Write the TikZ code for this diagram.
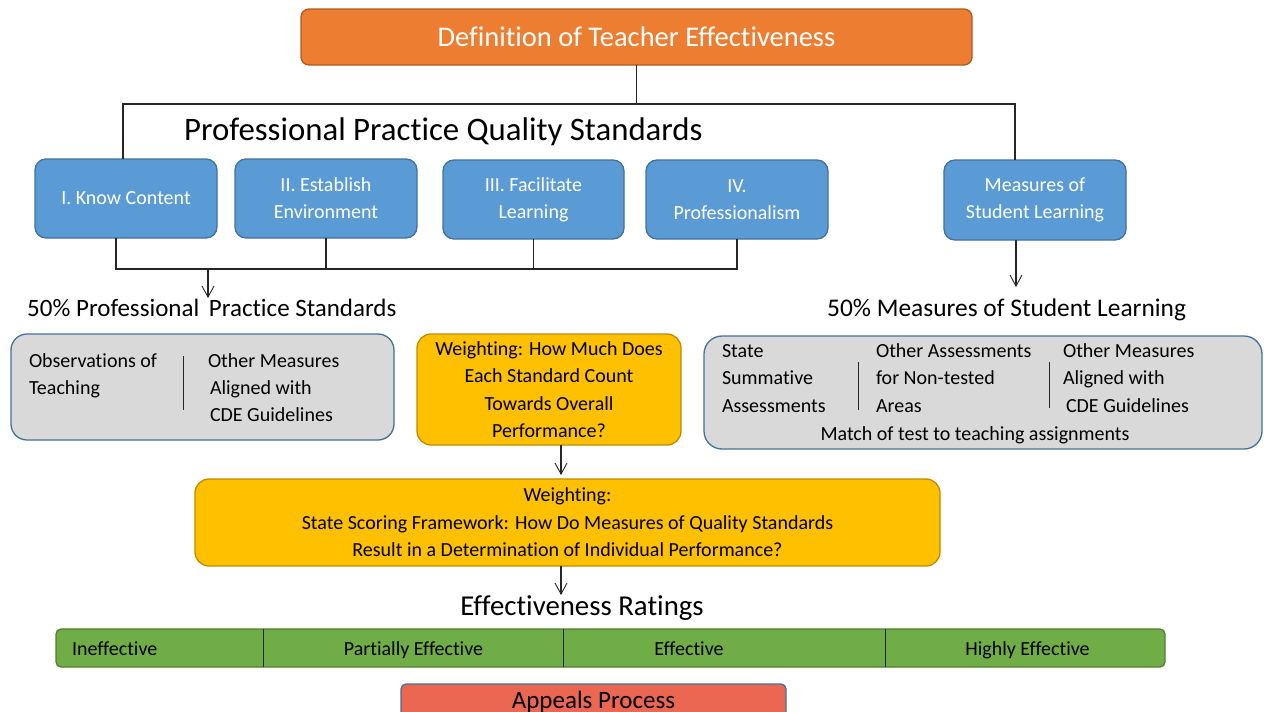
\documentclass[tikz,border=0pt]{standalone}
\usepackage{fontspec}
\setmainfont{Carlito}[Ligatures=CommonOff]
\usetikzlibrary{arrows.meta}
\definecolor{titleF}{HTML}{ED7D31}
\definecolor{titleB}{HTML}{AE5A21}
\definecolor{blueF}{HTML}{5B9BD5}
\definecolor{blueB}{HTML}{41719C}
\definecolor{grayF}{HTML}{D9D9D9}
\definecolor{goldF}{HTML}{FFC000}
\definecolor{goldB}{HTML}{BC8C00}
\definecolor{greenF}{HTML}{70AD47}
\definecolor{greenB}{HTML}{507E32}
\definecolor{redF}{HTML}{EB6751}
\definecolor{lineC}{HTML}{262626}
\tikzset{
  box/.style={inner sep=0pt, outer sep=0pt, line width=1.3pt},
  titlebox/.style={box, draw=titleB, fill=titleF, rounded corners=8pt, text=white, font=\fontsize{28.5}{34}\selectfont},
  stdbox/.style={box, draw=blueB, fill=blueF, rounded corners=11pt, text=white, align=center, font=\fontsize{20}{27}\selectfont, minimum width=182pt, minimum height=79pt},
  graybox/.style={box, draw=blueB, fill=grayF, rounded corners=16pt},
  goldbox/.style={box, draw=goldB, fill=goldF, rounded corners=14pt, align=center, font=\fontsize{20}{27.4}\selectfont},
  barbox/.style={box, draw=greenB, fill=greenF, rounded corners=5pt},
  appealbox/.style={box, draw=blueB, fill=redF, rounded corners=5pt},
  body/.style={inner sep=0pt, outer sep=0pt, font=\fontsize{20}{27.4}\selectfont},
  conn/.style={draw=lineC, line width=1.1pt},
  arr/.style={conn, -{Straight Barb[length=11pt,width=12pt,line width=0.9pt]}},
  divider/.style={draw=lineC, line width=1pt}
}
\begin{document}
\begin{tikzpicture}[x=1pt,y=-1pt]
\useasboundingbox (0,0) rectangle (1264,712);
\clip (0,0) rectangle (1264,712);
% title
\node[titlebox, minimum width=671pt, minimum height=56pt] (title) at (636.5,37) {Definition of Teacher Effectiveness};
% heading
\node[inner sep=0pt, anchor=base west, font=\fontsize{32.8}{38}\selectfont] (ppqs) at (184,140) {Professional Practice Quality Standards};
% standards boxes
\node[stdbox] (know) at (126,198.5) {I. Know Content};
\node[stdbox] (estab) at (326,198.5) {II. Establish\\Environment};
\node[stdbox, minimum width=181pt] (facil) at (533.5,199.5) {III. Facilitate\\Learning};
\node[stdbox] (prof) at (737,199.5) {IV.\\Professionalism};
\node[stdbox, minimum height=80pt] (meas) at (1035,200) {Measures of\\Student Learning};
% top connectors
\coordinate (busL) at (123,104);
\coordinate (busR) at (1015,104);
\draw[conn] (title.south) -- (title.south |- busL);
\draw[conn] (know.north -| busL) -- (busL) -- (busR) -- (meas.north -| busR);
% bottom bracket
\coordinate (bb) at (116,269);
\coordinate (be) at (737,269);
\coordinate (ppsTop) at (208,269);
\coordinate (ppsTip) at (208,298);
\draw[conn] (know.south -| bb) -- (bb) -- (be) -- (prof.south);
\draw[conn] (estab.south) -- (estab.south |- bb);
\draw[conn] (facil.south) -- (facil.south |- bb);
\draw[arr] (ppsTop) -- (ppsTip);
\coordinate (mslTip) at (1016,287);
\draw[arr] (meas.south -| mslTip) -- (mslTip);
% section headings
\node[inner sep=0pt, anchor=base west, font=\fontsize{25}{30}\selectfont] (ppsH) at (27,316) {50\% Professional\hspace{4pt} Practice Standards};
\node[inner sep=0pt, anchor=base west, font=\fontsize{25.4}{30}\selectfont] (mslH) at (827,316) {50\% Measures of Student Learning};
% left gray box
\node[graybox, minimum width=383pt, minimum height=106pt] (grayL) at (202.5,387) {};
\node[body, anchor=base west, align=left] (obs) at (29,394.4) {Observations of\\Teaching};
\node[body, anchor=base west, align=left] (othL) at (208,421.8) {Other Measures\\\hspace{2pt}Aligned with\\\hspace{2pt}CDE Guidelines};
\draw[divider] (183,356) -- (183,410);
% gold weighting box
\node[goldbox, minimum width=264pt, minimum height=111pt] (gold1) at (549,389.5) {Weighting: How Much Does\\Each Standard Count\\Towards Overall\\Performance?};
% right gray box
\node[graybox, minimum width=558pt, minimum height=113pt, rounded corners=18pt] (grayR) at (983,392.5) {};
\node[body, anchor=base west, align=left] (state) at (722,412.3) {State\\Summative\\Assessments};
\node[body, anchor=base west, align=left] (othA) at (876,412.3) {Other Assessments\\for Non-tested\\Areas};
\node[body, anchor=base west, align=left] (othR) at (1063,412.3) {Other Measures\\Aligned with\\\hspace{3pt}CDE Guidelines};
\node[body, anchor=base] (match) at (975,440.5) {Match of test to teaching assignments};
\draw[divider] (858,362) -- (858,410);
\draw[divider] (1049,362) -- (1049,408);
% second gold box
\node[goldbox, minimum width=745pt, minimum height=87pt] (gold2) at (567.5,522.5) {Weighting:\\State Scoring Framework: How Do Measures of Quality Standards\\Result in a Determination of Individual Performance?};
\coordinate (g2Tip) at (561,475);
\draw[arr] (gold1.south -| g2Tip) -- (g2Tip);
% ratings
\node[inner sep=0pt, anchor=base, font=\fontsize{28.8}{34}\selectfont] (effH) at (582,615) {Effectiveness Ratings};
\coordinate (effTip) at (561,595);
\draw[arr] (gold2.south -| effTip) -- (effTip);
\node[barbox, minimum width=1109pt, minimum height=38pt] (bar) at (610.5,648) {};
\draw[divider] (263,629) -- (263,667);
\draw[divider] (563,629) -- (563,667);
\draw[divider] (885,629) -- (885,667);
\node[body, anchor=base west] (r1) at (72,655) {Ineffective};
\node[body, anchor=base] (r2) at (413.5,655) {Partially Effective};
\node[body, anchor=base] (r3) at (689,655) {Effective};
\node[body, anchor=base] (r4) at (1027.5,655) {Highly Effective};
% appeals
\node[appealbox, minimum width=385pt, minimum height=50pt] (appeal) at (593.5,709) {};
\node[inner sep=0pt, anchor=base, font=\fontsize{25}{30}\selectfont] (appealT) at (593.5,708) {Appeals Process};
\end{tikzpicture}
\end{document}
